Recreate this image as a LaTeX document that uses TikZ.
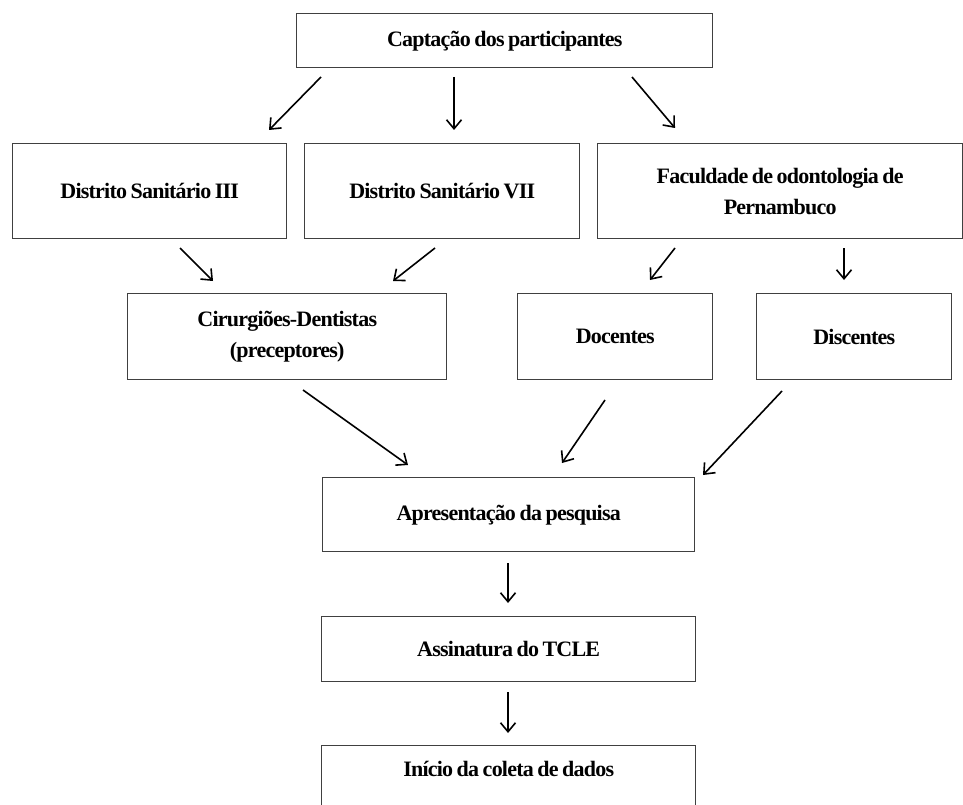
\documentclass[tikz,border=0pt]{standalone}
\usepackage{fontspec}
\setmainfont{Liberation Serif}[LetterSpace=-3.5,WordSpace=0.75]
\usetikzlibrary{arrows.meta}
\begin{document}
\begin{tikzpicture}[x=1pt,y=-1pt,
  box/.style={draw=black!75, line width=1.4pt, rectangle, inner sep=0pt, anchor=north west,
    align=center, font=\fontsize{22}{31}\selectfont\bfseries},
  arr/.style={line width=1.6pt, -{Straight Barb[length=9pt,width=15pt,line width=1.6pt]}}]
\useasboundingbox (0,0) rectangle (963,805);
\clip (0,0) rectangle (963,805);
\node[box, minimum width=416, minimum height=54] (cap) at (296,13) {Captação dos participantes};
\node[box, minimum width=274, minimum height=95] (d3) at (12,143) {Distrito Sanitário III};
\node[box, minimum width=275, minimum height=95] (d7) at (304,143) {Distrito Sanitário VII};
\node[box, minimum width=365, minimum height=95] (fac) at (597,143) {Faculdade de odontologia de\\Pernambuco};
\node[box, minimum width=319, minimum height=86] (cir) at (127,293) {Cirurgiões-Dentistas\\(preceptores)};
\node[box, minimum width=195, minimum height=86] (doc) at (517,293) {Docentes};
\node[box, minimum width=195, minimum height=86] (dis) at (756,293) {Discentes};
\node[box, minimum width=372, minimum height=74] (apr) at (322,477) {Apresentação da pesquisa};
\node[box, minimum width=374, minimum height=65] (ass) at (321,616) {Assinatura do TCLE};
\node[box, minimum width=374, text height=31pt, text depth=50pt] (ini) at (321,745) {Início da coleta de dados};
% arrow endpoints
\coordinate (a1s) at (321,77);  \coordinate (a1e) at (269,130);
\coordinate (a2s) at (454,77);  \coordinate (a2e) at (454,130);
\coordinate (a3s) at (632,77);  \coordinate (a3e) at (675,128);
\coordinate (a4s) at (180,248); \coordinate (a4e) at (213,281);
\coordinate (a5s) at (435,248); \coordinate (a5e) at (393,281);
\coordinate (a6s) at (675,248); \coordinate (a6e) at (650,280);
\coordinate (a7s) at (844,248); \coordinate (a7e) at (844,280);
\coordinate (a8s) at (303,390); \coordinate (a8e) at (408,465);
\coordinate (a9s) at (605,400); \coordinate (a9e) at (562,463);
\coordinate (a10s) at (782,391); \coordinate (a10e) at (703,475);
\coordinate (a11s) at (508,563); \coordinate (a11e) at (508,603);
\coordinate (a12s) at (508,692); \coordinate (a12e) at (508,733);
\foreach \i in {1,...,12} { \draw[arr] (a\i s) -- (a\i e); }
\end{tikzpicture}
\end{document}
